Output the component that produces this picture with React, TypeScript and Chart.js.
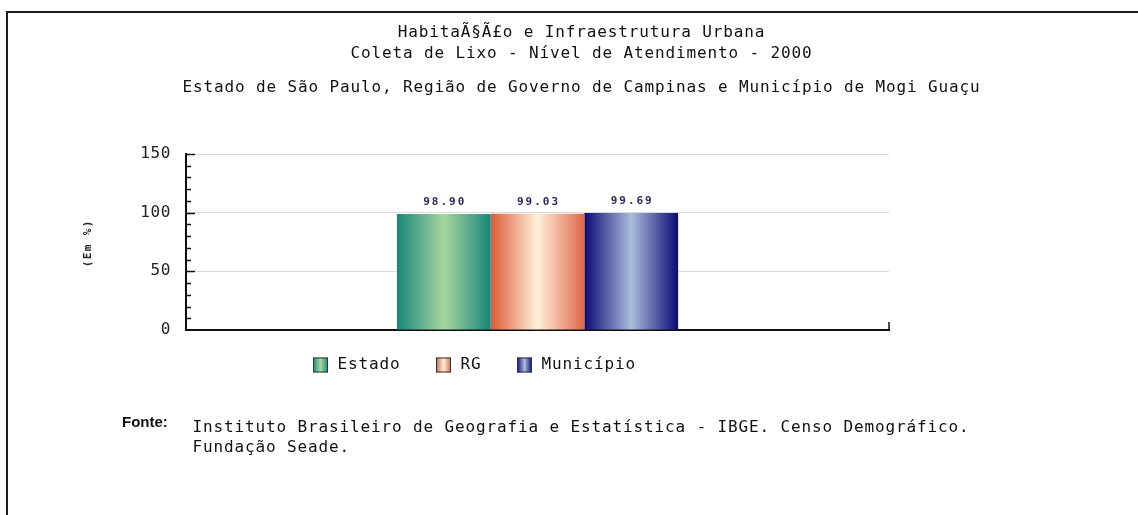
import React, { useEffect, useRef } from 'react';
import { Chart, registerables } from 'chart.js';

Chart.register(...registerables);

// ---- data ----
const categories = ['Coleta de Lixo - 2000'];
const seriesLabels = ['Estado', 'RG', 'Município'];
const estadoValues = [98.9];
const rgValues = [99.03];
const municipioValues = [99.69];
const yTickValues = [0, 50, 100, 150];
const titleLines = [
  'HabitaÃ§Ã£o e Infraestrutura Urbana',
  'Coleta de Lixo - Nível de Atendimento - 2000',
];
const subtitleLine = 'Estado de São Paulo, Região de Governo de Campinas e Município de Mogi Guaçu';
const yAxisTitle = '(Em %)';
const sourceLabel = 'Fonte:';
const sourceLines = [
  'Instituto Brasileiro de Geografia e Estatística - IBGE. Censo Demográfico.',
  'Fundação Seade.',
];

// ---- styles ----
const gradientStops = [
  ['#17877a', '#a7d69f', '#17877a'],
  ['#de5a38', '#fff1dc', '#df6646'],
  ['#0b0b74', '#abbcdc', '#0b0b74'],
];
const MONO = '"DejaVu Sans Mono", "Liberation Mono", monospace';
const CAT_PCT = 0.4;

function drawMono(ctx: CanvasRenderingContext2D, text: string, x: number, y: number, size: number, advance: number, color: string, bold = false) {
  ctx.save();
  ctx.font = `${bold ? 'bold ' : ''}${size}px ${MONO}`;
  ctx.fillStyle = color;
  ctx.textBaseline = 'middle';
  ctx.textAlign = 'center';
  Array.from(text).forEach((c, i) => ctx.fillText(c, x + advance * (i + 0.5), y));
  ctx.restore();
}
function monoWidth(text: string, advance: number) {
  return Array.from(text).length * advance;
}

function barGradient(ctx: CanvasRenderingContext2D, left: number, width: number, stops: string[]) {
  const g = ctx.createLinearGradient(left, 0, left + width, 0);
  g.addColorStop(0, stops[0]);
  g.addColorStop(0.5, stops[1]);
  g.addColorStop(1, stops[2]);
  return g;
}

const decorPlugin = {
  id: 'decor',
  beforeDraw(chart: any) {
    const ctx: CanvasRenderingContext2D = chart.ctx;
    ctx.save();
    ctx.fillStyle = '#ffffff';
    ctx.fillRect(0, 0, chart.width, chart.height);
    ctx.strokeStyle = '#1e1e1e';
    ctx.lineWidth = 2;
    ctx.beginPath();
    ctx.moveTo(6, 12);
    ctx.lineTo(chart.width, 12);
    ctx.moveTo(7, 12);
    ctx.lineTo(7, chart.height);
    ctx.stroke();
    ctx.restore();
    (ctx as any).letterSpacing = '0.6px';
  },
  afterDatasetsDraw(chart: any) {
    const ctx: CanvasRenderingContext2D = chart.ctx;
    (ctx as any).letterSpacing = '0px';
    chart.data.datasets.forEach((ds: any, di: number) => {
      const meta = chart.getDatasetMeta(di);
      meta.data.forEach((el: any, i: number) => {
        const txt = Number(ds.data[i]).toFixed(2);
        const w = monoWidth(txt, 8.6);
        drawMono(ctx, txt, el.x - w / 2, el.y - 12, 11, 8.6, '#2c2c5c', true);
      });
    });
    (ctx as any).letterSpacing = '0.6px';
  },
  afterDraw(chart: any) {
    const ctx: CanvasRenderingContext2D = chart.ctx;
    (ctx as any).letterSpacing = '0px';
    const ys = chart.scales.y;
    const xs = chart.scales.x;
    const area = chart.chartArea;
    // inward ticks on y axis
    ctx.save();
    ctx.strokeStyle = '#111';
    ctx.lineWidth = 1.5;
    ctx.beginPath();
    for (let v = 10; v <= 150; v += 10) {
      const y = Math.round(ys.getPixelForValue(v)) + 0.5;
      const len = v % 50 === 0 ? 9 : 5;
      ctx.moveTo(area.left, y);
      ctx.lineTo(area.left + len, y);
    }
    // x axis right-end tick
    ctx.moveTo(xs.right, area.bottom);
    ctx.lineTo(xs.right, area.bottom - 8);
    ctx.stroke();
    ctx.restore();

    // titles
    const adv = 10.5;
    const fs = 16;
    const cx = 581;
    titleLines.forEach((t, i) => {
      drawMono(ctx, t, cx - monoWidth(t, adv) / 2, 33 + i * 21, fs, adv, '#111');
    });
    drawMono(ctx, subtitleLine, cx - monoWidth(subtitleLine, adv) / 2, 88, fs, adv, '#111');

    // y axis title (rotated)
    ctx.save();
    ctx.translate(88, 244);
    ctx.rotate(-Math.PI / 2);
    const yw = monoWidth(yAxisTitle, 8);
    drawMono(ctx, yAxisTitle, -yw / 2, 0, 11, 8, '#222', true);
    ctx.restore();

    // legend
    let lx = 313;
    const ly = 365;
    seriesLabels.forEach((lab, i) => {
      ctx.save();
      ctx.fillStyle = barGradient(ctx, lx, 15, gradientStops[i]);
      ctx.fillRect(lx, ly - 7.5, 15, 15);
      ctx.strokeStyle = '#333';
      ctx.lineWidth = 1;
      ctx.strokeRect(lx + 0.5, ly - 7, 14, 14);
      ctx.restore();
      const tx = lx + 24;
      drawMono(ctx, lab, tx, ly, fs, adv, '#111');
      lx = tx + monoWidth(lab, adv) + 36;
    });

    // source
    ctx.save();
    ctx.font = 'bold 15px "Liberation Sans", Arial, sans-serif';
    ctx.fillStyle = '#111';
    ctx.textBaseline = 'middle';
    ctx.fillText(sourceLabel, 122, 423);
    ctx.restore();
    sourceLines.forEach((t, i) => drawMono(ctx, t, 192, 428 + i * 20, fs, adv, '#111'));
  },
};

export default function App() {
  const ref = useRef<HTMLCanvasElement | null>(null);
  useEffect(() => {
    document.body.style.margin = '0';
    const canvas = ref.current;
    if (!canvas) return;
    const seriesValues = [estadoValues, rgValues, municipioValues];
    const chart = new Chart(canvas, {
      type: 'bar',
      data: {
        labels: categories,
        datasets: seriesLabels.map((label, di) => ({
          label,
          data: seriesValues[di],
          categoryPercentage: CAT_PCT,
          barPercentage: 1,
          borderWidth: 0,
          backgroundColor: (c: any) => {
            const ch = c.chart;
            const xs = ch.scales && ch.scales.x;
            if (!xs || !xs.width) return gradientStops[di][1];
            const idx = c.dataIndex ?? 0;
            const center = xs.getPixelForValue(idx);
            const catW = (xs.width / categories.length) * CAT_PCT;
            const barW = catW / seriesLabels.length;
            const left = center - catW / 2 + di * barW;
            return barGradient(ch.ctx, left, barW, gradientStops[di]);
          },
        })),
      },
      options: {
        responsive: false,
        animation: false,
        devicePixelRatio: 1,
        layout: { padding: { left: 126, right: 249, top: 154, bottom: 185 } },
        plugins: {
          legend: { display: false },
          title: { display: false },
          tooltip: { enabled: false },
        },
        scales: {
          x: {
            type: 'category',
            grid: { display: false, drawTicks: false },
            ticks: { display: false },
            border: { display: true, color: '#111', width: 2 },
            afterFit: (s: any) => { s.height = 0; },
          },
          y: {
            min: 0,
            max: 150,
            afterBuildTicks: (s: any) => { s.ticks = yTickValues.map((v) => ({ value: v })); },
            ticks: { padding: 15, color: '#222', font: { family: MONO, size: 16 } },
            grid: { color: '#dadada', drawTicks: false, lineWidth: 1 },
            border: { color: '#111', width: 2 },
            afterFit: (s: any) => { s.width = 60; },
          },
        },
      } as any,
      plugins: [decorPlugin],
    });
    return () => chart.destroy();
  }, []);
  return (
    <div style={{ width: 1138, height: 515, position: 'relative' }}>
      <canvas ref={ref} width={1138} height={515} style={{ display: 'block', width: 1138, height: 515 }} />
    </div>
  );
}
